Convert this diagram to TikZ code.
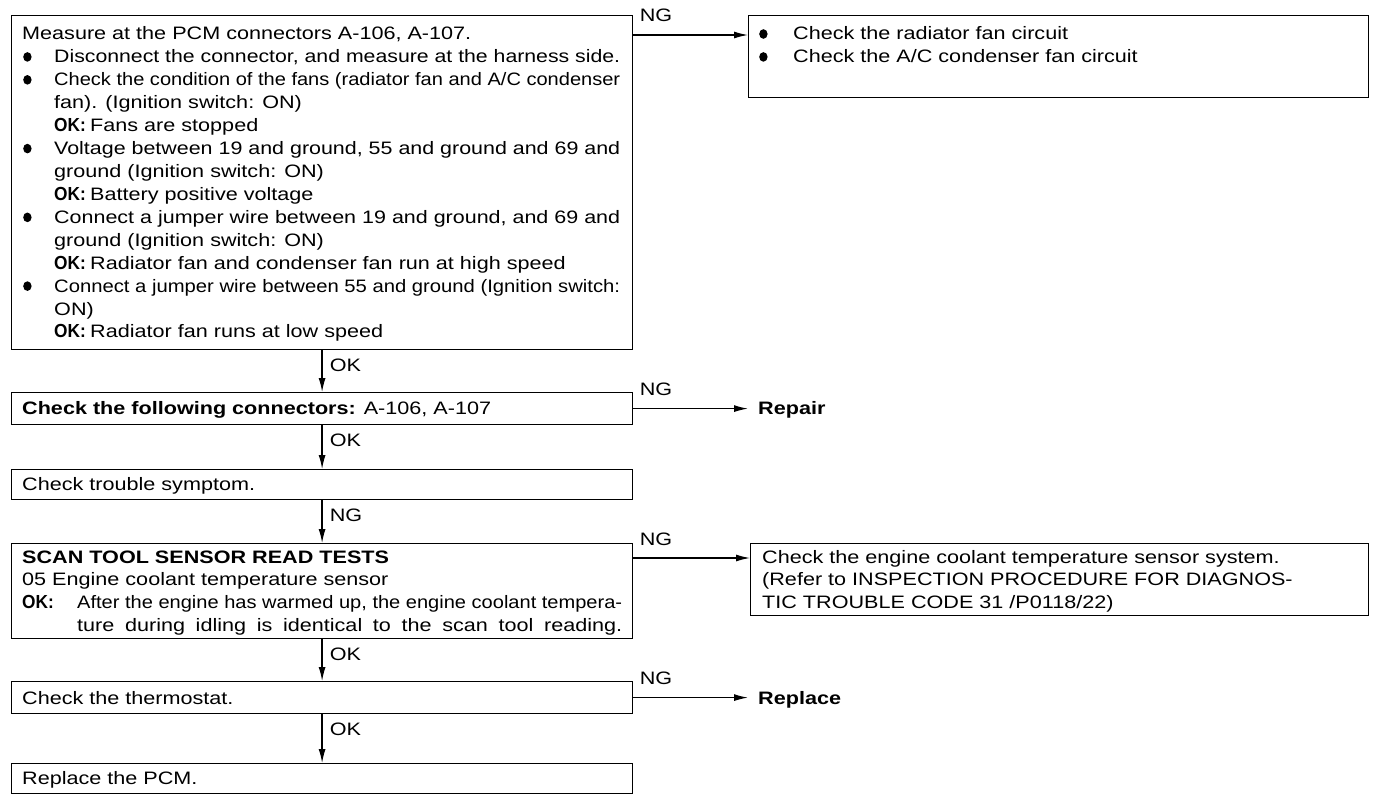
\documentclass[tikz,border=0pt]{standalone}
\usepackage{fontspec}
\usepackage{graphicx}
\setmainfont{Liberation Sans}[FakeStretch=1.2]
\usetikzlibrary{arrows.meta}
\newcommand\jl[2]{\sbox0{#2}\ifdim\wd0>#1\relax\resizebox{#1}{\ht0}{#2}\else\makebox[#1][s]{#2}\fi}
\newcommand\bul[1][32pt]{\makebox[#1][l]{\hspace*{1pt}\tikz[baseline=-6pt,x=1pt,y=1pt]\fill (0,0) ellipse [x radius=4.2pt, y radius=4.8pt];}}
\newcommand\okk[1][36pt]{\makebox[#1][l]{\scalebox{0.8}[1.05]{\textbf{OK:}}}}
\begin{document}
\begin{tikzpicture}[x=1pt,y=-1pt,
  every node/.style={font=\fontsize{18}{22.92}\selectfont},
  box/.style={draw, line width=1.2pt, inner sep=0pt, anchor=north west, minimum width=621pt},
  txt/.style={anchor=base west, inner sep=0pt},
  arr/.style={line width=1.3pt, -{Latex[length=14pt,width=7pt]}},
  ng/.style={pos=0, anchor=base west, inner sep=0pt, xshift=6pt, yshift=13pt},
  ok/.style={pos=0, anchor=north west, inner sep=0pt, xshift=7pt, yshift=-8pt}]
\useasboundingbox (0,0) rectangle (1392,800);
\fill[white] (0,0) rectangle (1392,800);

% boxes
\node[box, minimum height=334pt] (b1) at (11,15) {};
\node[box, minimum width=620pt, minimum height=82pt] (b1r) at (748,15) {};
\node[box, minimum height=32pt] (b2) at (11,392) {};
\node[box, minimum height=30pt] (b3) at (11,469) {};
\node[box, minimum height=95pt] (b4) at (11,543) {};
\node[box, minimum width=618pt, minimum height=72pt] (b4r) at (750,543) {};
\node[box, minimum height=32pt] (b6) at (11,681) {};
\node[box, minimum height=30pt] (b7) at (11,763) {};

% texts
\node[txt] (t1) at (22,40) {\parbox[t]{598pt}{%
Measure at the PCM connectors A-106, A-107.\\
\bul\jl{566pt}{Disconnect the connector, and measure at the harness side.}\\
\bul\jl{566pt}{Check the condition of the fans (radiator fan and A/C condenser}\\
\hspace*{32pt}fan). (Ignition switch: ON)\\
\hspace*{32pt}\okk Fans are stopped\\
\bul\jl{566pt}{Voltage between 19 and ground, 55 and ground and 69 and}\\
\hspace*{32pt}ground (Ignition switch: ON)\\
\hspace*{32pt}\okk Battery positive voltage\\
\bul\jl{566pt}{Connect a jumper wire between 19 and ground, and 69 and}\\
\hspace*{32pt}ground (Ignition switch: ON)\\
\hspace*{32pt}\okk Radiator fan and condenser fan run at high speed\\
\bul\jl{566pt}{Connect a jumper wire between 55 and ground (Ignition switch:}\\
\hspace*{32pt}ON)\\
\hspace*{32pt}\okk Radiator fan runs at low speed}};

\node[txt] (t1r) at (758,40) {\parbox[t]{590pt}{%
\bul[35pt]Check the radiator fan circuit\\
\bul[35pt]Check the A/C condenser fan circuit}};

\node[txt] (t2) at (22,414) {\textbf{Check the following connectors:} A-106, A-107};
\node[txt] (t3) at (22,490) {Check trouble symptom.};

\node[txt] (t4) at (22,563) {\parbox[t]{600pt}{%
\textbf{SCAN TOOL SENSOR READ TESTS}\\
05 Engine coolant temperature sensor\\
\okk[55pt]\jl{545pt}{After the engine has warmed up, the engine coolant tempera-}\\
\hspace*{55pt}\jl{545pt}{ture during idling is identical to the scan tool reading.}}};

\node[txt] (t4r) at (762,563) {\parbox[t]{600pt}{%
Check the engine coolant temperature sensor system.\\
(Refer to INSPECTION PROCEDURE FOR DIAGNOS-\\
TIC TROUBLE CODE 31 /P0118/22)}};

\node[txt] (t6) at (22,704) {Check the thermostat.};
\node[txt] (t7) at (22,784) {Replace the PCM.};

\node[txt] (repair) at (758,414) {\textbf{Repair}};
\node[txt] (replace) at (758,704) {\textbf{Replace}};

% connectors
\draw[arr] ([yshift=-20pt]b1.north east) -- node[ng]{NG} ([yshift=-20pt]b1r.north west);
\draw[arr] (b1.south) -- node[ok]{OK} (b2.north);
\draw[arr, shorten >=10pt] (b2.east) -- node[ng]{NG} (b2.east -| repair.west);
\draw[arr] (b2.south) -- node[ok]{OK} (b3.north);
\draw[arr] (b3.south) -- node[ok]{NG} (b4.north);
\draw[arr] ([yshift=-15pt]b4.north east) -- node[ng]{NG} ([yshift=-15pt]b4r.north west);
\draw[arr] (b4.south) -- node[ok]{OK} (b6.north);
\draw[arr, shorten >=10pt] (b6.east) -- node[ng]{NG} (b6.east -| replace.west);
\draw[arr] (b6.south) -- node[ok]{OK} (b7.north);
\end{tikzpicture}
\end{document}
